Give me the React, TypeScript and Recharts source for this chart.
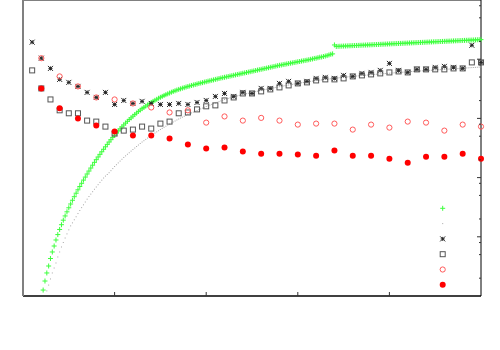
import React from 'react';
import { ScatterChart, Scatter, XAxis, YAxis, Legend } from 'recharts';

// ---- data ----
const MARKER_X = Array.from({ length: 50 }, (_, i) => i + 1);
const EVEN_X = Array.from({ length: 25 }, (_, i) => (i + 1) * 2);

const STAR_VALUES = [19400, 10400, 6990, 4560, 4060, 3470, 2750, 2260, 2750, 1720, 2010, 1790, 1940, 1790, 1720, 1720, 1790, 1720, 1860, 2010, 2350, 2640, 2350, 2750, 2640, 3210, 3210, 3900, 4220, 3900, 4220, 4740, 4930, 4740, 5330, 5120, 5760, 5980, 6470, 8490, 6470, 5980, 6730, 6730, 7270, 7560, 7270, 6990, 17200, 8830];
const SQUARE_VALUES = [6470, 3210, 2090, 1370, 1220, 1220, 918, 883, 727, 554, 622, 647, 727, 673, 817, 883, 1220, 1260, 1420, 1600, 1660, 2010, 2260, 2640, 2640, 2860, 3090, 3340, 3610, 3900, 4060, 4380, 4560, 4560, 4740, 5120, 5330, 5540, 5760, 5980, 6220, 5980, 6730, 6730, 6730, 6730, 6990, 6990, 8830, 8830];
const OPEN_VALUES = [10400, 5120, 3470, 2260, 2090, 1790, 1530, 1260, 1370, 849, 1080, 918, 1020, 918, 786, 817, 817, 647, 786, 699, 883, 849, 622, 786, 727];
const FILLED_VALUES = [3210, 1480, 992, 756, 598, 512, 512, 456, 361, 309, 321, 275, 254, 254, 245, 235, 286, 235, 235, 209, 179, 226, 226, 254, 209];

const GREEN_X0 = 2.2;
const GRAY_X0 = 2.6;
const SAMPLE_STEP = 0.2;
const GREEN_VALUES = [
  1.26, 1.79, 2.45, 3.21, 4.3, 5.54, 6.99, 8.83, 10.9, 13.3,
  16.0, 19.1, 22.5, 26.4, 30.9, 35.8, 41.4, 47.6, 54.5, 62.2,
  70.7, 80.1, 90.7, 102, 115, 129, 145, 162, 181, 201,
  223, 247, 273, 301, 331, 364, 399, 437, 478, 520,
  567, 615, 665, 719, 774, 833, 893, 958, 1020, 1090,
  1160, 1230, 1310, 1380, 1460, 1530, 1610, 1690, 1770, 1860,
  1940, 2020, 2100, 2190, 2270, 2350, 2440, 2520, 2600, 2680,
  2770, 2850, 2930, 3010, 3090, 3160, 3240, 3310, 3390, 3460,
  3530, 3600, 3670, 3740, 3810, 3890, 3960, 4020, 4100, 4170,
  4250, 4320, 4400, 4470, 4560, 4630, 4720, 4800, 4870, 4950,
  5020, 5100, 5180, 5260, 5350, 5430, 5520, 5600, 5690, 5780,
  5870, 5960, 6050, 6150, 6250, 6340, 6440, 6550, 6650, 6750,
  6860, 6960, 7070, 7180, 7300, 7410, 7530, 7650, 7770, 7890,
  7980, 8110, 8200, 8330, 8430, 8560, 8660, 8790, 8900, 9040,
  9140, 9290, 9400, 9540, 9650, 9800, 9960, 10100, 10300, 10400,
  10600, 10800, 10900, 11100, 11300, 11500, 11800, 12100, 12300, 17400,
  16400, 16500, 16560, 16610, 16670, 16720, 16780, 16840, 16890, 16950,
  17010, 17060, 17120, 17180, 17230, 17290, 17350, 17410, 17470, 17520,
  17580, 17640, 17700, 17760, 17820, 17880, 17940, 18000, 18060, 18120,
  18180, 18240, 18300, 18360, 18420, 18490, 18550, 18610, 18670, 18740,
  18800, 18860, 18920, 18990, 19050, 19120, 19180, 19240, 19310, 19370,
  19440, 19500, 19570, 19630, 19700, 19770, 19830, 19900, 19960, 20030,
  20100, 20170, 20230, 20300, 20370, 20440, 20510, 20580, 20640, 20710,
  20780, 20850, 20920, 20990, 21060, 21130, 21200, 21280, 21350, 21420,
];
const GRAY_VALUES = [
  1.22, 1.53, 1.94, 2.45, 2.97, 3.61, 4.56, 5.54, 6.73, 8.01,
  9.54, 11.2, 13.1, 15.3, 17.2, 19.4, 21.8, 24.7, 27.8, 31.1,
  34.7, 38.7, 43.2, 47.9, 52.6, 57.8, 63.5, 69.4, 75.9, 83.0,
  90.4, 98.4, 106, 113, 121, 131, 142, 154, 165, 177,
  190, 204, 219, 233, 248, 263, 280, 298, 316, 335,
  355, 377, 399, 420, 442, 465, 489, 514, 539, 565,
  592, 620, 649, 678, 707, 738, 771, 804, 836, 870,
  904, 940, 977, 1012, 1048, 1085, 1124, 1164, 1200, 1238,
  1277, 1318, 1359, 1403, 1447, 1493, 1540, 1589, 1632, 1677,
  1724, 1772, 1820, 1871, 1922, 1975, 2030, 2086, 2127, 2177,
  2220, 2272, 2317, 2362, 2399, 2446, 2485, 2533, 2573, 2614,
  2655, 2707, 2749, 2792, 2836, 2881, 2926, 2972, 3018, 3066,
  3114, 3150, 3200, 3250, 3288, 3339, 3379, 3432, 3471, 3526,
  3567, 3623, 3666, 3709, 3752, 3811, 3856, 3901, 3947, 3993,
  4040, 4088, 4136, 4178, 4220, 4263, 4306, 4350, 4391, 4432,
  4474, 4516, 4559, 4598, 4637, 4677, 4717, 4757, 4794, 4832,
  4869, 4907, 4946, 4981, 5016, 5051, 5086, 5122, 5158, 5194,
  5231, 5268, 5305, 5338, 5372, 5405, 5439, 5473, 5507, 5541,
  5576, 5611, 5646, 5676, 5707, 5738, 5769, 5800, 5832, 5864,
  5896, 5929, 5961, 5994, 6027, 6060, 6093, 6126, 6155, 6184,
  6213, 6242, 6271, 6300, 6330, 6359, 6389, 6419, 6449, 6479,
  6510, 6540, 6571, 6602, 6633, 6664, 6695, 6726, 6758, 6789,
  6821, 6852, 6884, 6917, 6949, 6982, 7014, 7047, 7080, 7113,
  7146, 7180, 7213, 7247, 7281, 7315, 7349, 7384,
];

const X_TICKS = [10, 20, 30, 40];
const Y_MAJOR_TICKS = [10, 100, 1000, 10000];
const Y_MINOR_TICKS = [2, 5, 8, 20, 50, 80, 200, 500, 800, 2000, 5000, 8000, 20000, 50000, 80000];

// ---- tables built from the arrays ----
const sampled = (x0: number, vals: number[]) =>
  vals.map((y, i) => ({ x: Math.round((x0 + i * SAMPLE_STEP) * 10) / 10, y }));
const greenData = sampled(GREEN_X0, GREEN_VALUES);
const grayData = sampled(GRAY_X0, GRAY_VALUES);
const starData = MARKER_X.map((x, i) => ({ x, y: STAR_VALUES[i] }));
const squareData = MARKER_X.map((x, i) => ({ x, y: SQUARE_VALUES[i] }));
const openData = EVEN_X.map((x, i) => ({ x, y: OPEN_VALUES[i] }));
const filledData = EVEN_X.map((x, i) => ({ x, y: FILLED_VALUES[i] }));
const Y_TICKS = [...Y_MAJOR_TICKS, ...Y_MINOR_TICKS].sort((a, b) => a - b);

// ---- styles ----
const GREEN = '#3dff3d';
const GRAY_DOT = '#a8a8a8';
const STAR = '#262626';
const SQUARE = '#555555';
const RED_OPEN = '#ff5a5a';
const RED = '#ff0000';

const plusShape = (cx: number, cy: number) => (
  <path d={`M${cx - 2.5} ${cy}H${cx + 2.5}M${cx} ${cy - 2.5}V${cy + 2.5}`} stroke={GREEN} strokeWidth={1} fill="none" />
);
const dotShape = (cx: number, cy: number) => (
  <rect x={cx - 0.5} y={cy - 0.5} width={1} height={1} fill={GRAY_DOT} />
);
const starShape = (cx: number, cy: number) => (
  <path
    d={`M${cx - 2.5} ${cy - 2.5}L${cx + 2.5} ${cy + 2.5}M${cx - 2.5} ${cy + 2.5}L${cx + 2.5} ${cy - 2.5}M${cx - 2} ${cy}H${cx + 2}M${cx} ${cy - 2}V${cy + 2}`}
    stroke={STAR}
    strokeWidth={1}
    fill="none"
  />
);
const squareShape = (cx: number, cy: number) => (
  <rect x={cx - 2.5} y={cy - 2.5} width={5} height={5} stroke={SQUARE} strokeWidth={1} fill="none" />
);
const openShape = (cx: number, cy: number) => (
  <circle cx={cx} cy={cy} r={2.6} stroke={RED_OPEN} strokeWidth={1} fill="none" />
);
const filledShape = (cx: number, cy: number) => <circle cx={cx} cy={cy} r={3} fill={RED} />;

const wrap = (fn: (cx: number, cy: number) => React.ReactElement) => (p: any) => fn(p.cx, p.cy);

const LEGEND_SHAPES = [plusShape, dotShape, starShape, squareShape, openShape, filledShape];

const XTick = (p: any) => {
  const { x, y } = p;
  return <line x1={x} x2={x} y1={y} y2={y - 4} stroke="#333" strokeWidth={1} />;
};
const YTick = (p: any) => {
  const { x, y, payload } = p;
  const major = Y_MAJOR_TICKS.includes(payload.value);
  return <line x1={x} x2={x - (major ? 4 : 2)} y1={y} y2={y} stroke="#333" strokeWidth={1} />;
};

const LegendContent = () => (
  <svg width={22} height={96}>
    {LEGEND_SHAPES.map((fn, i) => (
      <g key={i}>{fn(10.7, 6.3 + i * 15.3)}</g>
    ))}
  </svg>
);

export default function App() {
  return (
    <div style={{ position: 'absolute', left: 0, top: 0, width: 500, height: 350, background: '#fff' }}>
      <ScatterChart width={500} height={350} margin={{ top: 0, right: 19, bottom: 54, left: 23 }}>
        <XAxis
          xAxisId="x"
          type="number"
          dataKey="x"
          domain={[0, 50]}
          ticks={X_TICKS}
          interval={0}
          mirror
          height={10}
          tickSize={0}
          tickMargin={0}
          tickLine={false}
          tick={XTick}
          axisLine={{ stroke: '#000', strokeWidth: 1.5 }}
        />
        <XAxis
          xAxisId="top"
          orientation="top"
          type="number"
          domain={[0, 50]}
          mirror
          height={10}
          tick={false}
          tickLine={false}
          axisLine={{ stroke: '#808080', strokeWidth: 2 }}
        />
        <YAxis
          yAxisId="y"
          orientation="right"
          type="number"
          dataKey="y"
          scale="log"
          domain={[1, 100000]}
          ticks={Y_TICKS}
          interval={0}
          mirror
          width={10}
          tickSize={0}
          tickMargin={0}
          tickLine={false}
          tick={YTick}
          axisLine={{ stroke: '#000', strokeWidth: 1 }}
        />
        <YAxis
          yAxisId="left"
          orientation="left"
          type="number"
          domain={[0, 1]}
          mirror
          width={10}
          tick={false}
          tickLine={false}
          axisLine={{ stroke: '#808080', strokeWidth: 2 }}
        />
        <Scatter name="green" data={greenData} xAxisId="x" yAxisId="y" shape={wrap(plusShape)} isAnimationActive={false} />
        <Scatter name="gray" data={grayData} xAxisId="x" yAxisId="y" shape={wrap(dotShape)} isAnimationActive={false} />
        <Scatter name="star" data={starData} xAxisId="x" yAxisId="y" shape={wrap(starShape)} isAnimationActive={false} />
        <Scatter name="square" data={squareData} xAxisId="x" yAxisId="y" shape={wrap(squareShape)} isAnimationActive={false} />
        <Scatter name="open" data={openData} xAxisId="x" yAxisId="y" shape={wrap(openShape)} isAnimationActive={false} />
        <Scatter name="filled" data={filledData} xAxisId="x" yAxisId="y" shape={wrap(filledShape)} isAnimationActive={false} />
        <Legend
          layout="vertical"
          align="center"
          verticalAlign="middle"
          wrapperStyle={{ position: 'absolute', left: 432, top: 202, width: 22, height: 96 }}
          content={LegendContent}
        />
      </ScatterChart>
    </div>
  );
}
